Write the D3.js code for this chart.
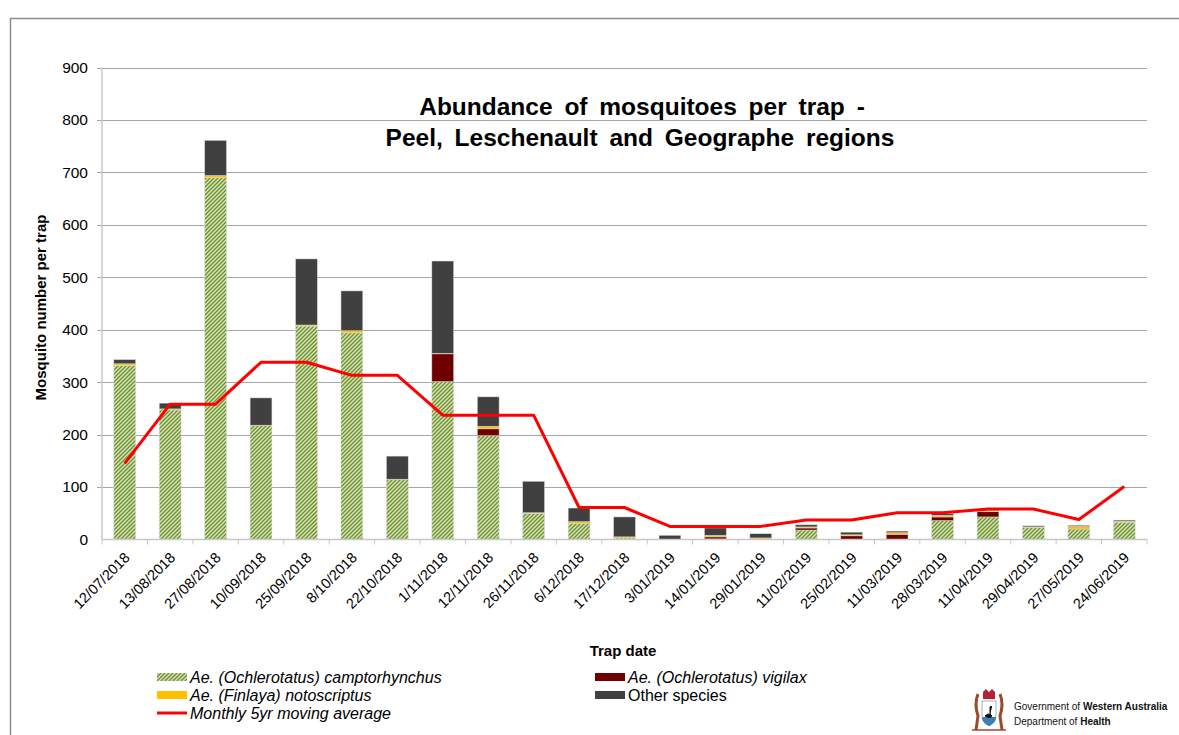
<!DOCTYPE html>
<html>
<head>
<meta charset="utf-8">
<script src="https://cdn.jsdelivr.net/npm/d3@7"></script>
<style>
  body { margin: 0; background: #fff; }
  text { font-family: "Liberation Sans", Arial, sans-serif; }
</style>
</head>
<body>
<div id="chart"></div>
<script>
// trap dates and per-species counts
const dates = ["12/07/2018", "13/08/2018", "27/08/2018", "10/09/2018", "25/09/2018", "8/10/2018",
  "22/10/2018", "1/11/2018", "12/11/2018", "26/11/2018", "6/12/2018", "17/12/2018", "3/01/2019",
  "14/01/2019", "29/01/2019", "11/02/2019", "25/02/2019", "11/03/2019", "28/03/2019", "11/04/2019",
  "29/04/2019", "27/05/2019", "24/06/2019"];
const camptorhynchus = [332, 247, 690, 217, 407, 394, 114, 301, 198, 50, 31, 3, 0, 1, 0, 18, 0, 0, 36, 43, 23, 20, 33];
const vigilax        = [0, 0, 0, 0, 0, 0, 0, 53, 13, 0, 0, 0, 0, 4, 0, 4, 7, 10, 7, 10, 0, 0, 0];
const notoscriptus   = [3, 2, 4, 1, 2, 4, 1, 1, 5, 1, 3, 2, 0, 3, 3, 2, 2, 3, 3, 2, 1, 5, 2];
const otherSpecies   = [8, 11, 67, 52, 126, 76, 44, 176, 56, 60, 26, 38, 8, 14, 8, 4, 5, 3, 3, 1, 2, 2, 2];
const movingAvg      = [145, 258, 258, 338, 338, 313, 313, 237, 237, 237, 61, 61, 25, 25, 25, 37, 37, 51, 51, 58, 58, 38, 101];
const yTicks = [0, 100, 200, 300, 400, 500, 600, 700, 800, 900];

const keys = ["camp", "vig", "noto", "other"];
const fills = { camp: "url(#hatch)", vig: "#700000", noto: "#ffc000", other: "#404040" };

const rows = dates.map((d, i) => ({
  date: d, camp: camptorhynchus[i], vig: vigilax[i], noto: notoscriptus[i], other: otherSpecies[i], avg: movingAvg[i]
}));

const width = 1179, height = 735;
const plot = { left: 102, right: 1147, top: 67.5, bottom: 539.5 };

const svg = d3.select("#chart").append("svg")
  .attr("width", width).attr("height", height);

const defs = svg.append("defs");
const pat = defs.append("pattern")
  .attr("id", "hatch").attr("patternUnits", "userSpaceOnUse")
  .attr("width", 4).attr("height", 4);
pat.append("rect").attr("width", 4).attr("height", 4).attr("fill", "#d2e2b0");
pat.append("path")
  .attr("d", "M-1,1 l2,-2 M0,4 l4,-4 M3,5 l2,-2")
  .attr("stroke", "#6f8f35").attr("stroke-width", 1.3);

// outer frame
svg.append("rect")
  .attr("x", 10.5).attr("y", 18.5).attr("width", 1200).attr("height", 740)
  .attr("fill", "none").attr("stroke", "#8c8c8c").attr("stroke-width", 1.5);

const x = d3.scaleBand().domain(dates).range([plot.left, plot.right]).padding(0);
const y = d3.scaleLinear().domain([0, 900]).range([plot.bottom, plot.top]);
const barW = x.bandwidth() * 0.48;

// gridlines
svg.append("g").selectAll("line").data(yTicks.filter(t => t > 0)).join("line")
  .attr("x1", plot.left - 5).attr("x2", plot.right)
  .attr("y1", d => Math.round(y(d)) + 0.5).attr("y2", d => Math.round(y(d)) + 0.5)
  .attr("stroke", "#a6a6a6").attr("stroke-width", 1);

// y axis
svg.append("line")
  .attr("x1", plot.left).attr("x2", plot.left).attr("y1", plot.top).attr("y2", plot.bottom)
  .attr("stroke", "#c8c8c8").attr("stroke-width", 1.5);

svg.append("g").selectAll("text").data(yTicks).join("text")
  .attr("x", 88).attr("y", d => y(d)).attr("dy", "0.35em")
  .attr("text-anchor", "end").attr("font-size", 15.5).attr("fill", "#000")
  .text(d => d);

svg.append("text")
  .attr("transform", `translate(46,${(plot.top + plot.bottom) / 2 + 4}) rotate(-90)`)
  .attr("text-anchor", "middle").attr("font-size", 15).attr("font-weight", "bold")
  .text("Mosquito number per trap");

// stacked bars
const series = d3.stack().keys(keys)(rows);
svg.append("g").selectAll("g").data(series).join("g")
  .attr("fill", s => fills[s.key])
  .selectAll("rect").data(s => s.filter(d => d[1] - d[0] > 0)).join("rect")
  .attr("x", d => x(d.data.date) + (x.bandwidth() - barW) / 2)
  .attr("width", barW)
  .attr("y", d => y(d[1]))
  .attr("height", d => y(d[0]) - y(d[1]))
  .attr("stroke", "#d9d9d9").attr("stroke-width", 0.5);

// x axis
svg.append("line")
  .attr("x1", plot.left).attr("x2", plot.right).attr("y1", plot.bottom).attr("y2", plot.bottom)
  .attr("stroke", "#c8c8c8").attr("stroke-width", 1.5);
svg.append("g").selectAll("line").data(dates.map(d => x(d)).concat([plot.right])).join("line")
  .attr("x1", d => d).attr("x2", d => d)
  .attr("y1", plot.bottom).attr("y2", plot.bottom + 5)
  .attr("stroke", "#c8c8c8").attr("stroke-width", 1);

svg.append("g").selectAll("text").data(dates).join("text")
  .attr("transform", d => `translate(${x(d) + x.bandwidth() / 2 + 6},${plot.bottom + 19}) rotate(-45)`)
  .attr("text-anchor", "end").attr("font-size", 14.5)
  .text(d => d);

svg.append("text")
  .attr("x", 623).attr("y", 656).attr("text-anchor", "middle")
  .attr("font-size", 15).attr("font-weight", "bold")
  .text("Trap date");

// moving average line
const line = d3.line()
  .x(d => x(d.date) + x.bandwidth() / 2)
  .y(d => y(d.avg));
svg.append("path").datum(rows)
  .attr("d", line).attr("fill", "none")
  .attr("stroke", "#ff0000").attr("stroke-width", 3).attr("stroke-linejoin", "round");

// title
const title = svg.append("text").attr("text-anchor", "middle")
  .attr("font-size", 24.5).attr("font-weight", "bold").attr("word-spacing", 5);
title.append("tspan").attr("x", 642).attr("y", 115).text("Abundance of mosquitoes per trap -");
title.append("tspan").attr("x", 640).attr("y", 146).text("Peel, Leschenault and Geographe regions");

// legend
const legendItems = [
  { label: "Ae. (Ochlerotatus) camptorhynchus", fill: "url(#hatch)", x: 157, y: 677, italic: true },
  { label: "Ae. (Ochlerotatus) vigilax", fill: "#700000", x: 595, y: 677, italic: true },
  { label: "Ae. (Finlaya) notoscriptus", fill: "#ffc000", x: 157, y: 695, italic: true },
  { label: "Other species", fill: "#404040", x: 595, y: 695, italic: false },
  { label: "Monthly 5yr moving average", line: "#ff0000", x: 157, y: 713, italic: true }
];
const lg = svg.append("g").selectAll("g").data(legendItems).join("g")
  .attr("transform", d => `translate(${d.x},${d.y})`);
lg.filter(d => !d.line).append("rect")
  .attr("x", 0).attr("y", -4).attr("width", 30).attr("height", 8)
  .attr("fill", d => d.fill);
lg.filter(d => d.line).append("line")
  .attr("x1", 0).attr("x2", 30).attr("y1", 0).attr("y2", 0)
  .attr("stroke", d => d.line).attr("stroke-width", 3);
lg.append("text")
  .attr("x", 33).attr("dy", "0.35em").attr("font-size", 16)
  .attr("font-style", d => d.italic ? "italic" : "normal")
  .text(d => d.label);

// Government of WA / Department of Health logo
const logo = svg.append("g").attr("transform", "translate(970,688)");
logo.append("path").attr("d", "M8,6 q-4,10 0,22 l-2,14 M30,6 q4,10 0,22 l2,14")
  .attr("stroke", "#9b4a2c").attr("stroke-width", 3).attr("fill", "none");
logo.append("path").attr("d", "M13,4 l3,-3 l3,3 l3,-3 l3,3 v7 h-12 z")
  .attr("fill", "#b0213a");
logo.append("path").attr("d", "M12,13 h14 v14 q0,8 -7,11 q-7,-3 -7,-11 z")
  .attr("fill", "#fff").attr("stroke", "#777").attr("stroke-width", 0.6);
logo.append("path").attr("d", "M12,29 h14 q0,6 -7,9 q-7,-3 -7,-9 z").attr("fill", "#3a7fb8");
logo.append("path").attr("d", "M15,28 q4,-4 7,0 q-2,3 -7,0 M20,27 v-8 q1,-2 2,0")
  .attr("fill", "#111").attr("stroke", "#111").attr("stroke-width", 1);
logo.append("path").attr("d", "M2,42 h34").attr("stroke", "#9b4a2c").attr("stroke-width", 1.5);

const gov = svg.append("g").attr("font-size", 10).attr("fill", "#111");
const t1 = gov.append("text").attr("x", 1014).attr("y", 710);
t1.append("tspan").text("Government of ");
t1.append("tspan").attr("font-weight", "bold").text("Western Australia");
const t2 = gov.append("text").attr("x", 1014).attr("y", 725);
t2.append("tspan").text("Department of ");
t2.append("tspan").attr("font-weight", "bold").text("Health");
</script>
</body>
</html>
